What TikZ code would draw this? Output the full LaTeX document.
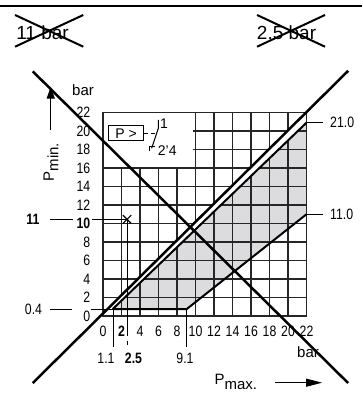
\documentclass[tikz,border=0pt]{standalone}
\usepackage{fontspec}
\setmainfont{Liberation Sans}
\newfontfamily\numfont{Liberation Sans}[FakeStretch=0.82]
\usetikzlibrary{arrows.meta}
\definecolor{cshade}{HTML}{DCDCDE}
\definecolor{cgrid}{HTML}{262626}
\tikzset{
  every picture/.style={line width=1pt, x=9.25pt, y=9.25pt},
  grid/.style={draw=cgrid, line width=1.1pt},
  edge/.style={draw=black, line width=2pt},
  cross/.style={draw=black, line width=2.5pt},
  leader/.style={draw=black, line width=0.9pt},
  num/.style={font=\numfont\fontsize{15}{15}\selectfont, inner sep=1pt},
  lab/.style={font=\fontsize{15}{15}\selectfont, inner sep=1pt},
  axis/.style={-{Triangle[length=#1, width=8pt]}, line width=1pt},
  axis/.default=12pt,
}

\begin{document}
\begin{tikzpicture}
  \useasboundingbox (-11.135,-8.432) rectangle (28.0,34.16);
  \draw[line width=2pt] (-11.135,33.46) -- (28.0,33.46);
  \node[lab, font=\fontsize{19}{19}\selectfont] (old11) at (-6.54,30.59) {11 bar};
  \draw[line width=2pt] (-9.51,32.54) -- (-2.13,29.11) (-9.51,29.11) -- (-2.13,32.54);
  \node[lab, font=\fontsize{19}{19}\selectfont] (old25) at (19.84,30.59) {2.5 bar};
  \draw[line width=2pt] (16.65,32.54) -- (24.0,29.11) (16.65,29.11) -- (24.0,32.54);

  \fill[cshade] (1.05,0.75) -- (9.05,0.75) -- (22,11) -- (22,20.9) -- cycle;
  \foreach \v in {2,4,...,8} \draw[grid] (\v,0) -- (\v,16);
  \foreach \v in {10,12,...,20} \draw[grid] (\v,0) -- (\v,22);
  \foreach \v in {2,4,...,16} \draw[grid] (0,\v) -- (22,\v);
  \foreach \v in {18,20} \draw[grid] (9.7,\v) -- (22,\v);
  \fill[white] (0.48,0.75) -- (1.05,0.75) -- (22,20.9) -- (22,22.05) -- cycle;
  \draw[grid, line width=1.5pt] (0,0) rectangle (22,22);
  \draw[edge] (1.05,0.75) -- (22,20.9);
  \draw[edge] (1.05,0.75) -- (9.05,0.75) -- (22,11);

  \node[draw, line width=1pt, lab, font=\fontsize{14}{14}\selectfont, minimum width=35.7pt, minimum height=15.3pt] (pbox) at (2.5,19.75) {P >};
  \draw[dash pattern=on 4pt off 3pt] (pbox.east) -- ++(1.35,0);
  \draw (5.26,18.13) -- (5.98,20.3) -- (5.98,21.2);
  \draw (5.62,18.32) -- (5.0,18.32) -- (5.0,17.8);
  \node[lab, font=\fontsize{14}{14}\selectfont] (t1) at (6.6,20.76) {1};
  \node[lab, font=\fontsize{14}{14}\selectfont] (t24) at (6.95,17.87) {2'4};

  \draw[leader] (22,20.9) -- (23.75,20.9);
  \node[num, anchor=west] (v21) at (24.4,20.9) {21.0};
  \draw[leader] (22,11) -- (23.75,11);
  \node[num, anchor=west] (v11) at (24.4,11) {11.0};
  \node[num] (v04) at (-7.51,0.7) {0.4};
  \draw[leader] (-5.73,0.75) -- (-3.38,0.75) (-1.33,0.75) -- (1.05,0.75);
  \node[num, font=\numfont\bfseries\fontsize{15}{15}\selectfont] (b11) at (-7.57,10.4) {11};
  \draw[leader] (-5.73,10.45) -- (-3.24,10.45) (-1.22,10.45) -- (2.6,10.45);
  \draw[line width=1.2pt] (2.15,10.0) -- (3.05,10.9) (2.15,10.9) -- (3.05,10.0);

  \draw[leader] (2.6,10.45) -- (2.6,-2.2) (2.6,-2.7) -- (2.6,-3.15);
  \draw[leader] (1.1,0.75) -- (1.1,-3.35);
  \draw[leader] (9.05,0.75) -- (9.05,-3.35);
  \node[num] (m11) at (0.32,-4.55) {1.1};
  \node[num, font=\numfont\bfseries\fontsize{15}{15}\selectfont] (m25) at (3.3,-4.55) {2.5};
  \node[num] (m91) at (8.86,-4.55) {9.1};

  \foreach \v in {0,2,...,22} \node[num, anchor=east] (y\v) at (-1.22,\v) {\ifnum\v=10 \bfseries\fi\v};
  \foreach \v in {0,2,...,22} \node[num] (x\v) at (\v,-1.7) {\ifnum\v=2 \bfseries\fi\v};
  \node[lab] (ybar) at (-2.16,24.43) {bar};
  \node[lab] (xbar) at (22.16,-3.86) {bar};

  \coordinate (ya) at (-5.65,20.1);
  \coordinate (yb) at (-5.65,24.8);
  \draw[axis] (ya) -- (yb);
  \node[lab, rotate=90, anchor=base west, inner sep=0] (pmin) at (-5.3,14.5) {P\raisebox{-4.5pt}{min.}};
  \coordinate (xa) at (18.6,-7.21);
  \coordinate (xb) at (23.68,-7.21);
  \draw[axis=16pt] (xa) -- (xb);
  \node[lab, anchor=base west, inner sep=0] (pmax) at (12.0,-7.45) {P\raisebox{-4.5pt}{max.}};

  \draw[cross] (-7.6,-7.25) -- (26.5,26.5);
  \draw[cross] (-7.6,26.45) -- (26.5,-7.25);
\end{tikzpicture}
\end{document}
